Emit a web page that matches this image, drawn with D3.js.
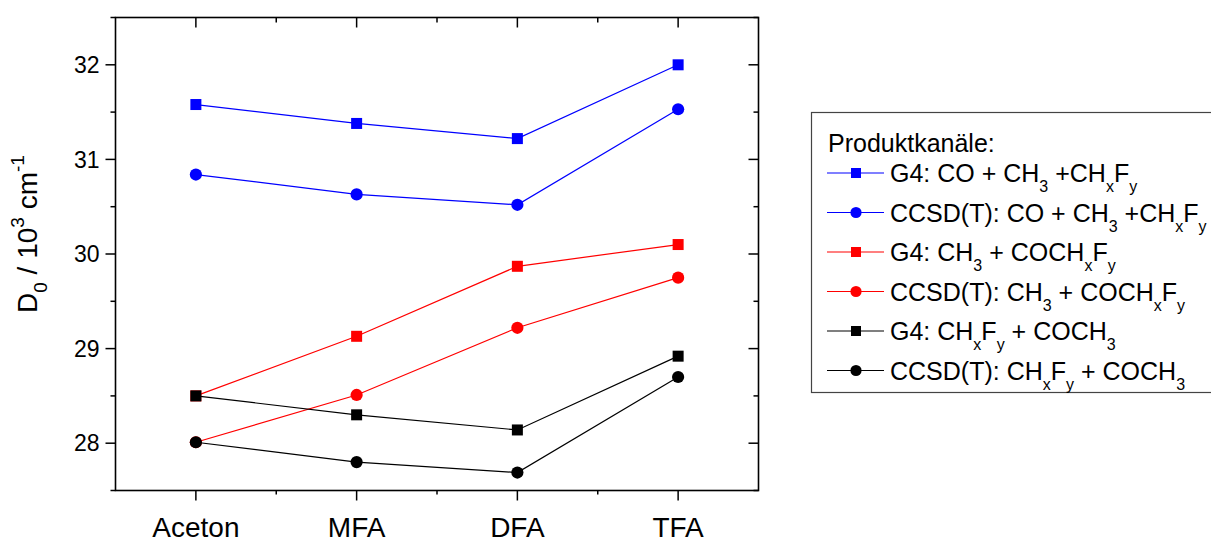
<!DOCTYPE html>
<html><head><meta charset="utf-8">
<script src="https://cdn.jsdelivr.net/npm/d3@7/dist/d3.min.js"></script>
<style>body{margin:0;background:#fff;} svg{display:block;font-family:"Liberation Sans",Arial,sans-serif;}</style>
</head><body>
<svg id="c" width="1211" height="543"></svg>
<script>
const categories = ["Aceton","MFA","DFA","TFA"];
const g4Co    = [31.58, 31.38, 31.22, 32.00];
const ccsdCo  = [30.84, 30.63, 30.52, 31.53];
const g4Ch3   = [28.50, 29.13, 29.87, 30.10];
const ccsdCh3 = [28.01, 28.51, 29.22, 29.75];
const g4Chf   = [28.50, 28.30, 28.14, 28.92];
const ccsdChf = [28.01, 27.80, 27.69, 28.70];
const yTicks = [28, 29, 30, 31, 32];
const yMinor = [27.5, 28.5, 29.5, 30.5, 31.5, 32.5];
const legendTitle = "Produktkanäle:";
const seriesLabels = [
  "G4: CO + CH_3 +CH_xF_y",
  "CCSD(T): CO + CH_3 +CH_xF_y",
  "G4: CH_3 + COCH_xF_y",
  "CCSD(T): CH_3 + COCH_xF_y",
  "G4: CH_xF_y + COCH_3",
  "CCSD(T): CH_xF_y + COCH_3"
];

const series = [
  {vals: g4Co, color: "#0000ff", shape: "square"},
  {vals: ccsdCo, color: "#0000ff", shape: "circle"},
  {vals: g4Ch3, color: "#ff0000", shape: "square"},
  {vals: ccsdCh3, color: "#ff0000", shape: "circle"},
  {vals: g4Chf, color: "#000000", shape: "square"},
  {vals: ccsdChf, color: "#000000", shape: "circle"}
];

const L = 115.5, R = 758.5, T = 17.5, B = 490.5;
const svg = d3.select("#c");
const x = d3.scalePoint().domain(categories).range([L, R]).padding(0.5);
const y = d3.scaleLinear().domain([27.5, 32.5]).range([B, T]);

const step = x.step();
const xMinor = categories.slice(0, -1).map(c => x(c) + step / 2);

svg.append("rect").attr("x", L).attr("y", T).attr("width", R - L).attr("height", B - T)
  .attr("fill", "none").attr("stroke", "#000").attr("stroke-width", 1.6);

const tickG = svg.append("g").attr("stroke", "#000").attr("stroke-width", 1.5);
yTicks.forEach(v => tickG.append("line").attr("x1", L - 10).attr("x2", L).attr("y1", y(v)).attr("y2", y(v)));
yMinor.forEach(v => tickG.append("line").attr("x1", L - 5).attr("x2", L).attr("y1", y(v)).attr("y2", y(v)));
yTicks.forEach(v => tickG.append("line").attr("x1", R - 10).attr("x2", R).attr("y1", y(v)).attr("y2", y(v)));
yMinor.forEach(v => tickG.append("line").attr("x1", R - 5).attr("x2", R).attr("y1", y(v)).attr("y2", y(v)));
categories.forEach(c => tickG.append("line").attr("x1", x(c)).attr("x2", x(c)).attr("y1", B).attr("y2", B + 10));
xMinor.forEach(v => tickG.append("line").attr("x1", v).attr("x2", v).attr("y1", B).attr("y2", B + 4));
categories.forEach(c => tickG.append("line").attr("x1", x(c)).attr("x2", x(c)).attr("y1", T).attr("y2", T + 10));
xMinor.forEach(v => tickG.append("line").attr("x1", v).attr("x2", v).attr("y1", T).attr("y2", T + 5));

svg.append("g").selectAll("text").data(yTicks).join("text")
  .attr("x", L - 16).attr("y", d => y(d)).attr("dy", "0.36em")
  .attr("text-anchor", "end").attr("font-size", 23).attr("fill", "#000").text(d => d);
svg.append("g").selectAll("text").data(categories).join("text")
  .attr("x", d => x(d)).attr("y", 537)
  .attr("text-anchor", "middle").attr("font-size", 28).attr("fill", "#000").text(d => d);

const yt = svg.append("text").attr("transform", "translate(37,313) rotate(-90)")
  .attr("font-size", 28).attr("fill", "#000");
yt.append("tspan").text("D");
yt.append("tspan").attr("font-size", 19).attr("dy", 10).text("0");
yt.append("tspan").attr("dy", -10).text(" / 10");
yt.append("tspan").attr("font-size", 19).attr("dy", -13).text("3");
yt.append("tspan").attr("dy", 13).text(" cm");
yt.append("tspan").attr("font-size", 19).attr("dy", -13).text("-1");

function drawMarker(g, shape, cx, cy, color, s) {
  if (shape === "square") {
    g.append("rect").attr("x", cx - s / 2).attr("y", cy - s / 2).attr("width", s).attr("height", s).attr("fill", color);
  } else {
    g.append("circle").attr("cx", cx).attr("cy", cy).attr("r", s / 2 + 0.6).attr("fill", color);
  }
}
const line = d3.line().x((d, i) => x(categories[i])).y(d => y(d));
series.forEach(s => {
  const g = svg.append("g");
  g.append("path").attr("d", line(s.vals)).attr("fill", "none").attr("stroke", s.color).attr("stroke-width", 1.2);
  s.vals.forEach((v, i) => drawMarker(g, s.shape, x(categories[i]), y(v), s.color, 11));
});

const lg = svg.append("g");
lg.append("rect").attr("x", 811.5).attr("y", 112.5).attr("width", 420).attr("height", 280)
  .attr("fill", "#fff").attr("stroke", "#444").attr("stroke-width", 1.2);
lg.append("text").attr("x", 828).attr("y", 152).attr("font-size", 25).attr("fill", "#000").text(legendTitle);
function richText(t, str, size) {
  const re = /_(.)/g;
  const off = 10;
  let last = 0, m, shift = 0;
  while ((m = re.exec(str)) !== null) {
    if (m.index > last) { t.append("tspan").attr("dy", -shift).attr("font-size", size).text(str.slice(last, m.index)); shift = 0; }
    t.append("tspan").attr("dy", off - shift).attr("font-size", 16).text(m[1]);
    shift = off;
    last = m.index + 2;
  }
  if (last < str.length) t.append("tspan").attr("dy", -shift).attr("font-size", size).text(str.slice(last));
}
seriesLabels.forEach((lab, i) => {
  const cy = 173 + i * 39.5;
  const s = series[i];
  lg.append("line").attr("x1", 827).attr("x2", 884).attr("y1", cy).attr("y2", cy)
    .attr("stroke", s.color).attr("stroke-width", 1.2);
  drawMarker(lg, s.shape, 856, cy, s.color, 10);
  const t = lg.append("text").attr("x", 890).attr("y", cy + 9).attr("font-size", 25).attr("fill", "#000");
  richText(t, lab, 25);
});
</script>
</body></html>
